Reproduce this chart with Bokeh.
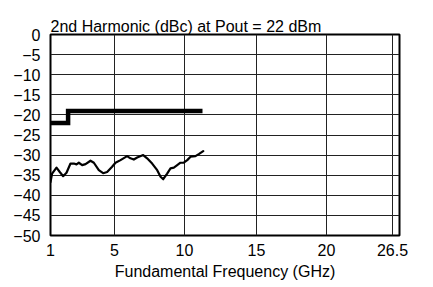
import numpy as np
from bokeh.plotting import figure
from bokeh.models import Range1d, FixedTicker
from bokeh.embed import file_html
from bokeh.resources import INLINE

# ---- data ----
tick_ghz = [1, 5, 10, 15, 20, 26.5]
tick_labels = ["1", "5", "10", "15", "20", "26.5"]
y_ticks = list(range(-50, 1, 5))

spec_freq = [1.0, 2.1, 2.1, 11.25]
spec_dbc = [-22, -22, -19, -19]

meas_freq = [1.0, 1.10, 1.375, 1.58, 1.79, 2.0, 2.25, 2.46, 2.625, 2.77, 2.98, 3.19,
             3.5, 3.71, 4.02, 4.29, 4.54, 4.85, 5.07, 5.43, 5.90, 6.14, 6.38, 6.62,
             7.05, 7.33, 7.69, 8.05, 8.29, 8.48, 8.76, 9.0, 9.24, 9.48, 9.71, 9.95,
             10.19, 10.42, 10.76, 10.99, 11.30]
meas_dbc = [-36.7, -34.6, -33.1, -34.2, -35.25, -34.4, -32.1, -32.1, -32.3, -31.9,
            -32.5, -32.25, -31.4, -31.9, -33.75, -34.5, -34.2, -32.9, -31.9, -31.25,
            -30.25, -30.8, -31.1, -30.6, -30.0, -30.8, -32.1, -33.75, -35.4, -36.0,
            -34.6, -33.3, -33.1, -32.5, -31.9, -31.9, -31.25, -30.4, -30.25, -29.75,
            -29.0]

# axis division layout (non-uniform hand-drawn frequency axis)
AXIS_POS = [0, 64, 134, 206, 276, 342]
X_END = 349


def to_axis(f):
    return np.interp(f, tick_ghz, AXIS_POS)


FONT = "'Liberation Sans Narrow', 'Liberation Sans', Arial, sans-serif"

p = figure(width=433, height=287, output_backend="svg", toolbar_location=None,
           x_range=Range1d(0, X_END), y_range=Range1d(-50, 0),
           min_border_left=50, min_border_right=34, min_border_top=34,
           min_border_bottom=52)

p.title.text = "2nd Harmonic (dBc) at Pout = 22 dBm"
p.title.align = "left"
p.title.text_font = FONT
p.title.text_font_size = "16px"
p.title.text_font_style = "normal"
p.title.text_color = "black"
p.title.standoff = 0
p.title.offset = 0

p.outline_line_color = "black"
p.outline_line_width = 2
p.outline_line_alpha = 1
p.background_fill_color = "white"
p.border_fill_color = "white"

# axes
xa = p.xaxis[0]
xa.ticker = FixedTicker(ticks=list(AXIS_POS))
xa.major_label_overrides = {AXIS_POS[i]: tick_labels[i] for i in range(len(AXIS_POS))}
xa.axis_label = "Fundamental Frequency (GHz)"
ya = p.yaxis[0]
ya.ticker = FixedTicker(ticks=y_ticks)
ya.major_label_overrides = {v: ("0" if v == 0 else "\u2212" + str(abs(v))) for v in y_ticks}

for ax in (xa, ya):
    ax.axis_line_color = None
    ax.major_tick_line_color = None
    ax.minor_tick_line_color = None
    ax.major_label_text_font = FONT
    ax.major_label_text_font_size = "16px"
    ax.major_label_text_color = "black"
    ax.major_label_standoff = 2
ya.major_label_standoff = 4
xa.axis_label_text_font = FONT
xa.axis_label_text_font_size = "16px"
xa.axis_label_text_font_style = "normal"
xa.axis_label_text_color = "black"
xa.axis_label_standoff = 4

p.xgrid.grid_line_color = "#222222"
p.xgrid.grid_line_width = 1
p.ygrid.grid_line_color = "#222222"
p.ygrid.grid_line_width = 1

p.line(to_axis(spec_freq), spec_dbc, line_color="black", line_width=4.5,
       line_cap="butt", line_join="miter")
p.line(to_axis(meas_freq), meas_dbc, line_color="black", line_width=2.2,
       line_join="round", line_cap="round")

open("out.html", "w").write(file_html(p, INLINE))
